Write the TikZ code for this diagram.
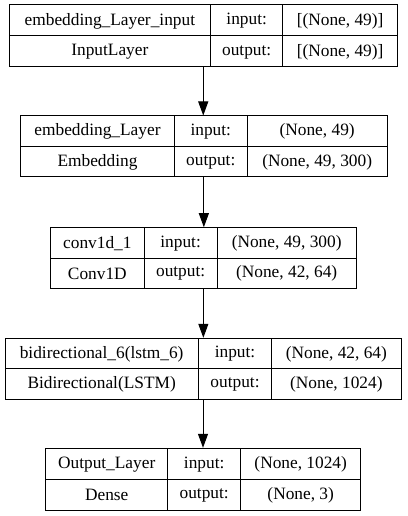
\documentclass[tikz,border=0pt]{standalone}
\usepackage{fontspec}
\setmainfont{Liberation Serif}
\usetikzlibrary{arrows.meta}
\tikzset{
  box/.style={draw=black, line width=0.75pt, inner sep=0pt, fill=white},
  boxline/.style={draw=black, line width=0.75pt},
  txt/.style={inner sep=0pt, font=\fontsize{13}{16}\selectfont, text=black},
  arr/.style={draw=black, line width=0.75pt, -{Triangle[length=10.5pt, width=7.5pt]}}
}
% #1 name, #2 L, #3 R, #4 T, #5 B, #6 d1, #7 d2
\newcommand\layerbox[7]{%
  \node[box, minimum width={(#3-#2)*0.75pt}, minimum height={(#5-#4)*0.75pt}] (#1) at ({(#2+#3)/2},{(#4+#5)/2}) {};
  \draw[boxline] (#6,#4) -- (#6,#5);
  \draw[boxline] (#7,#4) -- (#7,#5);
  \draw[boxline] (#2,{(#4+#5)/2}) -- (#3,{(#4+#5)/2});
  \coordinate (#1-1t) at ({(#2+#6)/2},{(3*#4+#5)/4+0.5});
  \coordinate (#1-1b) at ({(#2+#6)/2},{(#4+3*#5)/4+0.5});
  \coordinate (#1-2t) at ({(#6+#7)/2},{(3*#4+#5)/4+0.5});
  \coordinate (#1-2b) at ({(#6+#7)/2},{(#4+3*#5)/4+0.5});
  \coordinate (#1-3t) at ({(#7+#3)/2},{(3*#4+#5)/4+0.5});
  \coordinate (#1-3b) at ({(#7+#3)/2},{(#4+3*#5)/4+0.5});
}
% #1 name, #2..#5 texts
\newcommand\layertexts[5]{%
  \node[txt] (#1-n) at (#1-1t) {#2};
  \node[txt] (#1-k) at (#1-1b) {#3};
  \node[txt] (#1-il) at (#1-2t) {input:};
  \node[txt] (#1-ol) at (#1-2b) {output:};
  \node[txt] (#1-i) at (#1-3t) {#4};
  \node[txt] (#1-o) at (#1-3b) {#5};
}
\begin{document}
\begin{tikzpicture}[x=0.75pt, y=-0.75pt]
\useasboundingbox[fill=white] (0,0) rectangle (407,516);

\layerbox{b1}{9}{397.5}{5}{67}{210.7}{282.7}
\layertexts{b1}{embedding\_Layer\_input}{InputLayer}{[(None, 49)]}{[(None, 49)]}

\layerbox{b2}{20.7}{387}{116}{176.7}{174.3}{247.3}
\layertexts{b2}{embedding\_Layer}{Embedding}{(None, 49)}{(None, 49, 300)}

\layerbox{b3}{50.7}{356}{227.7}{288.3}{144}{217.3}
\layertexts{b3}{conv1d\_1}{Conv1D}{(None, 49, 300)}{(None, 42, 64)}

\layerbox{b4}{5}{401}{338.3}{399}{198.3}{271.7}
\layertexts{b4}{bidirectional\_6(lstm\_6)}{Bidirectional(LSTM)}{(None, 42, 64)}{(None, 1024)}

\layerbox{b5}{45.7}{360.7}{448.3}{510}{167.7}{240.7}
\layertexts{b5}{Output\_Layer}{Dense}{(None, 1024)}{(None, 3)}

\draw[arr] (b1.south) -- (b1.south |- b2.north);
\draw[arr] (b2.south) -- (b2.south |- b3.north);
\draw[arr] (b3.south) -- (b3.south |- b4.north);
\draw[arr] (b4.south) -- (b4.south |- b5.north);
\end{tikzpicture}
\end{document}
